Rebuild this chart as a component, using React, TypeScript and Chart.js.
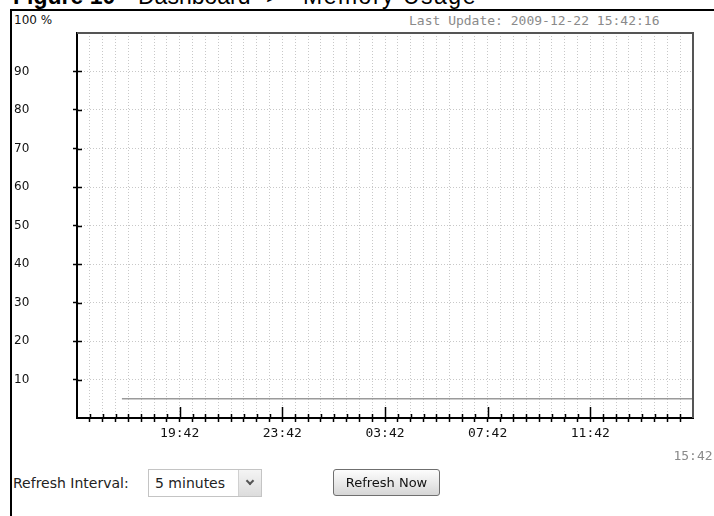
import React, { useEffect, useRef } from "react";
import { Chart, registerables } from "chart.js";

Chart.register(...registerables);

// ---- data ----
// x values are minutes since the window start (2009-12-21 15:42), 24 h window
const windowMinutes = 1440;
const minorTickStep = 30;
const majorTickMinutes = [240, 480, 720, 960, 1200, 1440];
const majorTickLabels = ["19:42", "23:42", "03:42", "07:42", "11:42", "15:42"];
const memoryTimes = [105, 300, 600, 900, 1200, 1440];
const memoryValues = [5, 5, 5, 5, 5, 5];
const yTickValues = [10, 20, 30, 40, 50, 60, 70, 80, 90];
const lastUpdate = "Last Update: 2009-12-22 15:42:16";

const innerTicks = {
  id: "innerTicks",
  afterDraw(chart: any) {
    const { ctx, chartArea, scales } = chart;
    const xs = scales.x;
    const ys = scales.y;
    ctx.save();
    ctx.strokeStyle = "#555";
    ctx.lineWidth = 2;
    ctx.beginPath();
    ctx.moveTo(chartArea.left, chartArea.top);
    ctx.lineTo(chartArea.right, chartArea.top);
    ctx.lineTo(chartArea.right, chartArea.bottom);
    ctx.stroke();
    ctx.strokeStyle = "#000";
    ctx.lineWidth = 1.5;
    ctx.beginPath();
    ys.ticks.forEach((t: any) => {
      if (!yTickValues.includes(t.value)) return;
      const py = Math.round(ys.getPixelForValue(t.value)) + 0.5;
      ctx.moveTo(chartArea.left, py);
      ctx.lineTo(chartArea.left + 5, py);
    });
    xs.ticks.forEach((t: any) => {
      if (t.value <= 0 || t.value >= windowMinutes) return;
      const px = Math.round(xs.getPixelForValue(t.value)) + 0.5;
      const len = majorTickMinutes.includes(t.value) ? 11 : 4;
      ctx.moveTo(px, chartArea.bottom);
      ctx.lineTo(px, chartArea.bottom - len);
    });
    ctx.stroke();
    ctx.restore();
  },
};

function ChartCanvas() {
  const ref = useRef<HTMLCanvasElement | null>(null);
  useEffect(() => {
    if (!ref.current) return;
    const chart = new Chart(ref.current, {
      type: "line",
      data: {
        datasets: [
          {
            label: "Memory Usage",
            data: memoryTimes.map((t, i) => ({ x: t, y: memoryValues[i] })),
            borderColor: "#9a9a9a",
            borderWidth: 1.5,
            pointRadius: 0,
            fill: false,
            tension: 0,
          },
        ],
      },
      options: {
        animation: false,
        responsive: true,
        maintainAspectRatio: false,
        layout: { padding: { top: 21, right: 21, left: 0, bottom: 0 } },
        plugins: { legend: { display: false }, tooltip: { enabled: false }, title: { display: false } },
        scales: {
          x: {
            type: "linear",
            min: 0,
            max: windowMinutes,
            afterFit: (s: any) => {
              s.height = 52;
            },
            border: { display: true, color: "#000", width: 2, dash: [1, 2] },
            grid: {
              color: (c: any) => {
                const v = c.tick ? c.tick.value : -1;
                return v <= 0 || v >= windowMinutes ? "rgba(0,0,0,0)" : "#c8c8c8";
              },
              tickColor: (c: any) => {
                const v = c.tick ? c.tick.value : -1;
                return v <= 0 || v >= windowMinutes ? "rgba(0,0,0,0)" : "#000";
              },
              lineWidth: 1,
              tickLength: 4,
              tickWidth: 1.5,
            },
            ticks: {
              stepSize: minorTickStep,
              autoSkip: false,
              maxRotation: 0,
              minRotation: 0,
              padding: 0,
              font: { family: "'DejaVu Sans Mono', monospace", size: 13, lineHeight: 23 / 13 },
              color: (c: any) => (c.tick && c.tick.value === windowMinutes ? "#8a8a8a" : "#111"),
              callback: (v: any) => {
                const idx = majorTickMinutes.indexOf(Number(v));
                if (idx < 0) return "";
                if (Number(v) === windowMinutes) return ["", majorTickLabels[idx]];
                return majorTickLabels[idx];
              },
            },
          },
          y: {
            min: 0,
            max: 100,
            afterFit: (s: any) => {
              s.width = 63;
            },
            border: { display: true, color: "#000", width: 2, dash: [1, 2] },
            grid: {
              color: (c: any) => {
                const v = c.tick ? c.tick.value : -1;
                return yTickValues.includes(v) ? "#c8c8c8" : "rgba(0,0,0,0)";
              },
              tickColor: (c: any) => {
                const v = c.tick ? c.tick.value : -1;
                return yTickValues.includes(v) ? "#000" : "rgba(0,0,0,0)";
              },
              lineWidth: 1,
              tickLength: 4,
              tickWidth: 1.5,
            },
            ticks: {
              stepSize: 10,
              crossAlign: "far",
              font: { family: "'DejaVu Sans', sans-serif", size: 12 },
              color: "#111",
              callback: (v: any) => (yTickValues.includes(Number(v)) ? String(v) : ""),
            },
          },
        },
      },
      plugins: [innerTicks],
    } as any);
    return () => chart.destroy();
  }, []);
  return (
    <div style={{ position: "absolute", left: 14, top: 12, width: 700, height: 458 }}>
      <canvas ref={ref} />
    </div>
  );
}

export default function App() {
  const sans = "'DejaVu Sans', sans-serif";
  const mono = "'DejaVu Sans Mono', monospace";
  const title = "'Liberation Sans', Arial, sans-serif";
  return (
    <div
      style={{
        position: "absolute",
        left: 0,
        top: 0,
        width: 714,
        height: 516,
        overflow: "hidden",
        background: "#fff",
      }}
    >
      <div style={{ position: "absolute", top: -16, left: 0, height: 24, lineHeight: "24px", fontFamily: title, fontSize: 23, color: "#000", whiteSpace: "nowrap" }}>
        <span style={{ position: "absolute", left: 13, fontWeight: "bold" }}>Figure 10</span>
        <span style={{ position: "absolute", left: 138 }}>Dashboard</span>
        <span style={{ position: "absolute", left: 266 }}>&gt;</span>
        <span style={{ position: "absolute", left: 303, letterSpacing: 1.5 }}>Memory Usage</span>
      </div>
      <div style={{ position: "absolute", left: 10, top: 9, width: 704, height: 2, background: "#000" }} />
      <div style={{ position: "absolute", left: 10, top: 9, width: 2, height: 507, background: "#000" }} />
      <div style={{ position: "absolute", left: 14, top: 12, lineHeight: "16px", fontFamily: sans, fontSize: 12, color: "#111" }}>100 %</div>
      <div style={{ position: "absolute", left: 409, top: 12, lineHeight: "17px", fontFamily: mono, fontSize: 13, color: "#8a8a8a", whiteSpace: "nowrap" }}>{lastUpdate}</div>
      <ChartCanvas />
      <div style={{ position: "absolute", left: 13, top: 474, lineHeight: "18px", fontFamily: sans, fontSize: 14, color: "#222", whiteSpace: "nowrap" }}>Refresh Interval:</div>
      <div
        style={{
          position: "absolute",
          left: 148,
          top: 469,
          width: 112,
          height: 26,
          border: "1px solid #c4c4c4",
          background: "#fff",
          boxSizing: "content-box",
        }}
      >
        <div style={{ position: "absolute", left: 6, top: 4, lineHeight: "18px", fontFamily: sans, fontSize: 14, color: "#222", whiteSpace: "nowrap" }}>5 minutes</div>
        <div
          style={{
            position: "absolute",
            right: 0,
            top: 0,
            width: 22,
            height: 26,
            borderLeft: "1px solid #d0d0d0",
            background: "linear-gradient(#f4f4f4, #dcdcdc)",
          }}
        >
          <div
            style={{
              position: "absolute",
              left: 8,
              top: 8,
              width: 4,
              height: 4,
              borderRight: "2px solid #555",
              borderBottom: "2px solid #555",
              transform: "rotate(45deg)",
            }}
          />
        </div>
      </div>
      <div
        style={{
          position: "absolute",
          left: 333,
          top: 469,
          width: 105,
          height: 25,
          border: "1px solid #6f6f6f",
          borderRadius: 3,
          background: "linear-gradient(#fdfdfd, #e6e6e6 60%, #d6d6d6)",
          textAlign: "center",
          lineHeight: "25px",
          fontFamily: sans,
          fontSize: 13,
          color: "#111",
          whiteSpace: "nowrap",
        }}
      >
        Refresh Now
      </div>
    </div>
  );
}
